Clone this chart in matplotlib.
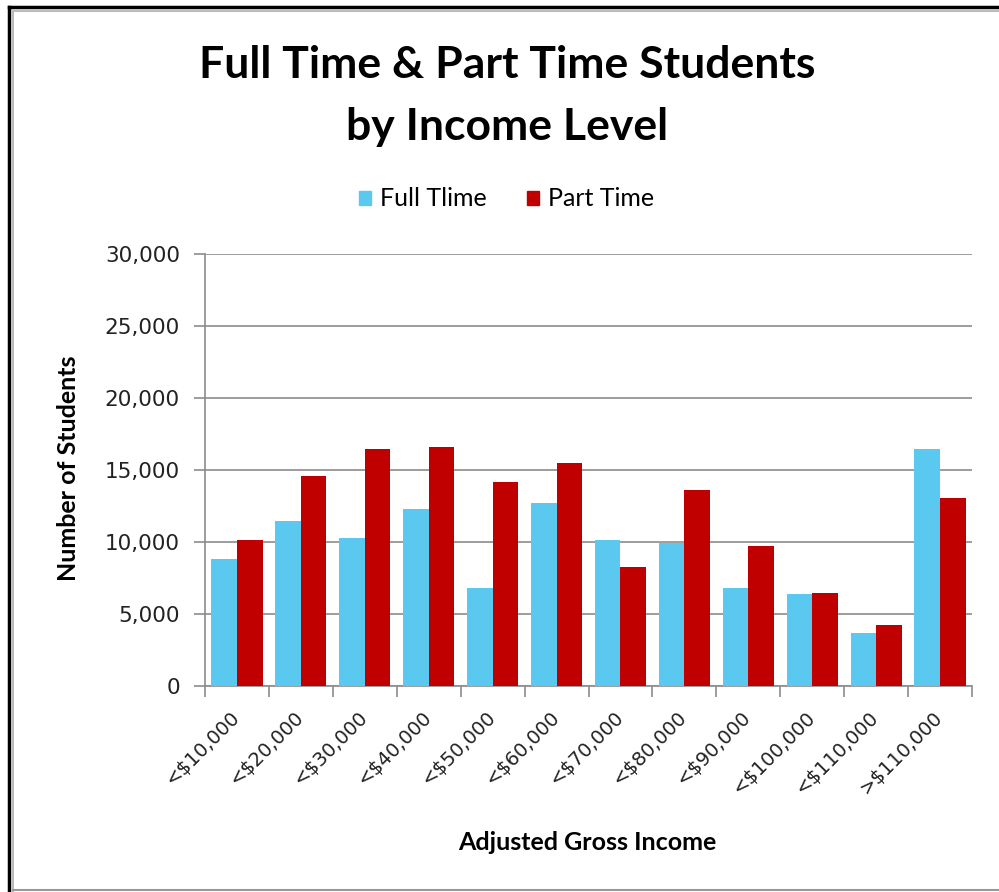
import matplotlib.pyplot as plt
from matplotlib.lines import Line2D
from matplotlib.patches import Patch
from matplotlib.ticker import FuncFormatter
import numpy as np

# Data
categories = ['<$10,000', '<$20,000', '<$30,000', '<$40,000', '<$50,000', '<$60,000',
              '<$70,000', '<$80,000', '<$90,000', '<$100,000', '<$110,000', '>$110,000']
full_time = [8840, 11440, 10300, 12310, 6830, 12730, 10140, 9950, 6830, 6390, 3660, 16480]
part_time = [10140, 14600, 16480, 16620, 14190, 15490, 8290, 13610, 9720, 6440, 4210, 13030]
series_names = ['Full Tlime', 'Part Time']

blue = '#5BC8F0'
red = '#C00000'
grid_col = '#8C8C8C'
label_font = 'Lato'
tick_font = 'DejaVu Sans'

fig = plt.figure(figsize=(9.99, 8.92), dpi=100)
W, H = 999, 892
ax = fig.add_axes([205 / W, 1 - 686 / H, (972 - 205) / W, (686 - 254) / H])

x = np.arange(len(categories))
w = 0.4
ax.bar(x - w / 2, full_time, w, color=blue, zorder=3)
ax.bar(x + w / 2, part_time, w, color=red, zorder=3)

ax.set_xlim(-0.5, len(categories) - 0.5)
ax.set_ylim(0, 30000)
ax.set_yticks(range(0, 30001, 5000))
ax.yaxis.set_major_formatter(FuncFormatter(lambda v, p: f'{int(v):,}'))
ax.grid(axis='y', color=grid_col, linewidth=1.2, zorder=0)

# category boundaries carry the tick marks, labels sit at the centres
ax.set_xticks(np.arange(-0.5, len(categories), 1.0))
ax.set_xticklabels([])
ax.set_xticks(x, minor=True)
ax.set_xticklabels(categories, minor=True, rotation=45, ha='right', va='center',
                   rotation_mode='anchor', fontsize=14, family=tick_font, color='#222222')
ax.tick_params(axis='x', which='major', length=8, width=1.2, color=grid_col, direction='out')
ax.tick_params(axis='x', which='minor', length=0, pad=20)
ax.tick_params(axis='y', length=8, width=1.2, color=grid_col, direction='out', pad=10,
               labelsize=15.5, labelcolor='#222222')
for lab in ax.get_yticklabels():
    lab.set_family(tick_font)

for s in ['top', 'right']:
    ax.spines[s].set_visible(False)
for s in ['left', 'bottom']:
    ax.spines[s].set_color(grid_col)
    ax.spines[s].set_linewidth(1.2)

fig.text(0.508, 1 - 65 / H, 'Full Time & Part Time Students', ha='center', va='center',
         fontsize=32, fontweight='bold', family=label_font)
fig.text(0.508, 1 - 127 / H, 'by Income Level', ha='center', va='center',
         fontsize=32, fontweight='bold', family=label_font)

handles = [Patch(color=blue), Patch(color=red)]
fig.legend(handles, series_names, loc='center', bbox_to_anchor=(0.507, 1 - 199 / H),
           ncol=2, frameon=False, prop={'family': label_font, 'size': 18},
           handlelength=0.5, handleheight=0.5, handletextpad=0.35, columnspacing=1.6)

fig.text(587 / W, 1 - 842 / H, 'Adjusted Gross Income', ha='center', va='center',
         fontsize=18, fontweight='bold', family=label_font)
fig.text(68 / W, 1 - 468 / H, 'Number of Students', ha='center', va='center', rotation=90,
         fontsize=18, fontweight='bold', family=label_font)

# frame around the picture
fig.add_artist(Line2D([9 / W, 9 / W], [0, 1 - 7 / H], color='black', linewidth=2.5))
fig.add_artist(Line2D([9 / W, 1], [1 - 7 / H, 1 - 7 / H], color='black', linewidth=2.5))
fig.add_artist(Line2D([13 / W, 13 / W], [0, 1 - 11 / H], color='#BBBBBB', linewidth=1.5))
fig.add_artist(Line2D([13 / W, 1], [1 - 11 / H, 1 - 11 / H], color='#BBBBBB', linewidth=1.5))
fig.add_artist(Line2D([13 / W, 1], [1 - 890 / H, 1 - 890 / H], color='#999999', linewidth=1.5))

fig.savefig('out.png', dpi=100)
